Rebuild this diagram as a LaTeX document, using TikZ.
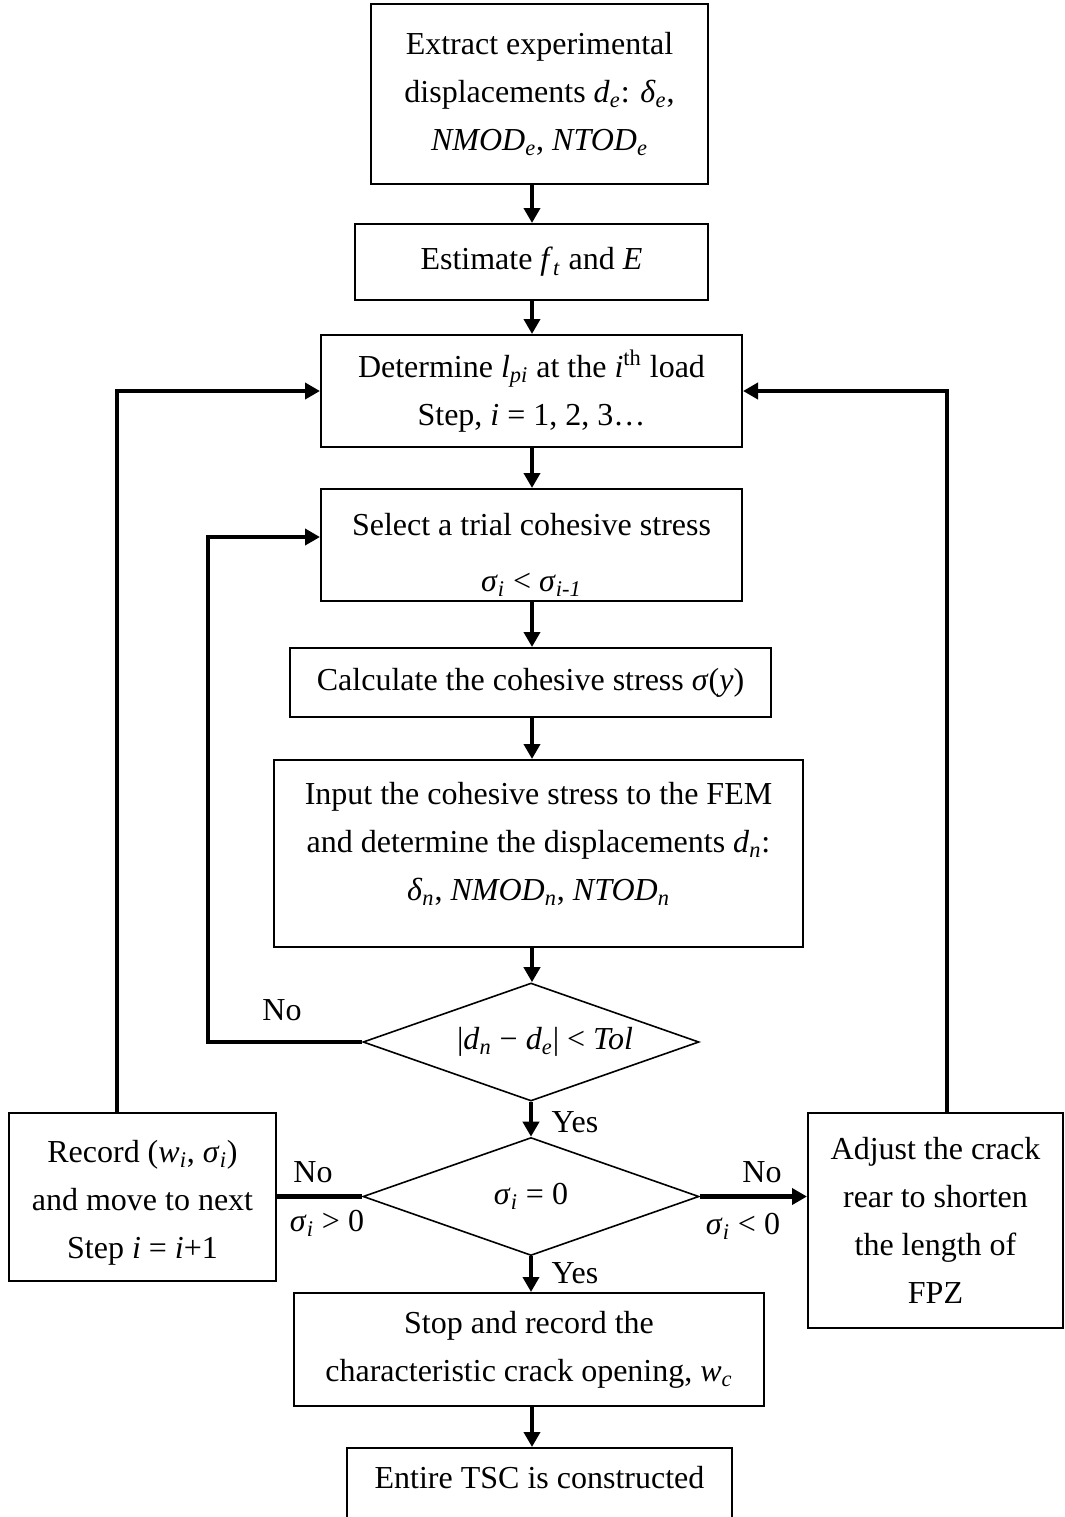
\documentclass[tikz,border=0pt]{standalone}
\usepackage{fontspec}
\setmainfont{Liberation Serif}
\usepackage{tikz}
\usetikzlibrary{
  arrows.meta,
  positioning,
  calc,
  shapes.geometric
}

\newcommand{\isub}[2]{\textit{#1}\textsubscript{\textit{#2}}}

\tikzset{
  box/.style={draw, line width=1pt, inner sep=0pt, align=center},
  decision/.style={draw, diamond, line width=0.8pt, inner sep=0pt,
    aspect=2.85, minimum width=168pt, minimum height=59pt},
  conn/.style={line width=2.3pt},
  arr/.style={conn, -{Triangle[length=7.5pt,width=8pt]}}
}

\begin{document}
\begin{tikzpicture}[
    x=0.5pt, y=-0.5pt,
    font=\fontsize{16}{24}\selectfont
    ]

    \useasboundingbox (0,0) rectangle (1065,1517);

    % eixos dos conectores
    \coordinate (mid) at (532,0);
    \coordinate (lx) at (117,0);
    \coordinate (rx) at (947,0);
    \coordinate (nx) at (208,0);

    % caixas
    \node[box, minimum width=168.5pt, minimum height=90pt] (extract)
    at (539.5,94)
    {Extract experimental\\
     displacements \isub{d}{e}: \isub{δ}{e},\\
     \isub{NMOD}{e}, \isub{NTOD}{e}};

    \node[box, minimum width=176.5pt, minimum height=38pt] (estimate)
    at (531.5,262)
    {Estimate \isub{f}{t} and \textit{E}};

    \node[box, minimum width=210.5pt, minimum height=56pt] (determine)
    at (531.5,391)
    {Determine \isub{l}{pi} at the \textit{i}\textsuperscript{th} load\\
     Step, \textit{i} = 1, 2, 3…};

    \node[box, minimum width=210.5pt, minimum height=56pt] (select)
    at (531.5,545)
    {\rule{0pt}{21pt}Select a trial cohesive stress\\[4pt]
     \isub{σ}{i} < \isub{σ}{i-1}};

    \node[box, minimum width=240.5pt, minimum height=34.5pt] (calculate)
    at (530.5,682.5)
    {Calculate the cohesive stress \textit{σ}(\textit{y})};

    \node[box, minimum width=264.5pt, minimum height=93.5pt] (input)
    at (538.5,853.5)
    {Input the cohesive stress to the FEM\\
     and determine the displacements \isub{d}{n}:\\
     \isub{δ}{n}, \isub{NMOD}{n}, \isub{NTOD}{n}\\[-12pt]\mbox{}};

    \node[decision] (tol)
    at (531,1042)
    {\hspace*{14pt}|\isub{d}{n} − \isub{d}{e}| < \textit{Tol}};

    \node[decision] (zero)
    at (531,1196.5)
    {\isub{σ}{i} = 0};

    \node[box, minimum width=235pt, minimum height=56.5pt] (stop)
    at (529,1349.5)
    {Stop and record the\\
     characteristic crack opening, \isub{w}{c}};

    \node[box, minimum width=192.5pt, text height=20pt, text depth=21pt,
    anchor=north] (entire)
    at (539.5,1447)
    {Entire TSC is constructed};

    \node[box, minimum width=133.5pt, minimum height=84pt] (record)
    at (142.5,1197)
    {\rule{0pt}{17pt}Record (\isub{w}{i}, \isub{σ}{i})\\
     and move to next\\
     Step \textit{i} = \textit{i}+1};

    \node[box, minimum width=127.5pt, minimum height=107.5pt] (adjust)
    at (935.5,1220.5)
    {Adjust the crack\\
     rear to shorten\\
     the length of\\
     FPZ};

    % setas principais
    \draw[arr] (extract.south -| mid) -- (estimate.north -| mid);
    \draw[arr] (estimate.south -| mid) -- (determine.north -| mid);
    \draw[arr] (determine.south -| mid) -- (select.north -| mid);
    \draw[arr] (select.south -| mid) -- (calculate.north -| mid);
    \draw[arr] (calculate.south -| mid) -- (input.north -| mid);
    \draw[arr] (input.south -| mid) -- (tol.north -| mid);
    \draw[arr] (tol.south) -- (zero.north);
    \draw[arr] (zero.south) -- (stop.north -| zero.south);
    \draw[arr] (stop.south -| mid) -- (entire.north -| mid);

    % lacos
    \draw[arr] (tol.west) -- (tol.west -| nx) |- ([yshift=4pt]select.west);
    \draw[arr] (record.north -| lx) |- (determine.west);
    \draw[arr] (adjust.north -| rx) |- (determine.east);
    \draw[conn] (zero.west) -- (record.east |- zero.west);
    \draw[arr] (zero.east) -- (adjust.west |- zero.east);

    % rotulos
    \node (no1) at (282,1010) {No};
    \node (yes1) at (575,1122) {Yes};
    \node (no2) at (313,1172) {No};
    \node (gt) at (327,1223) {\isub{σ}{i} > 0};
    \node (no3) at (762,1172) {No};
    \node (lt) at (743,1226) {\isub{σ}{i} < 0};
    \node (yes2) at (575,1273) {Yes};

\end{tikzpicture}
\end{document}
